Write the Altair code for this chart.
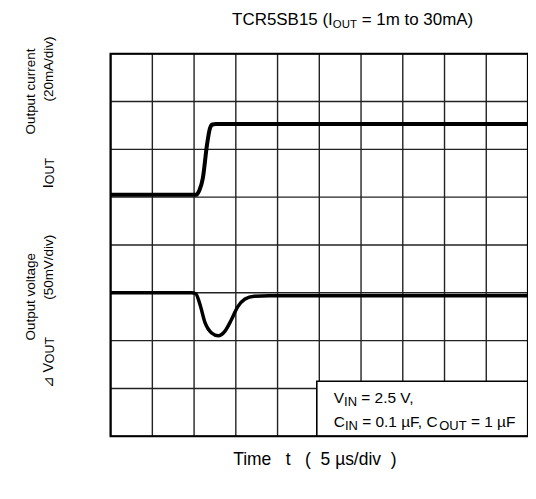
import altair as alt
import pandas as pd

# ---------------- data ----------------
# time axis: 5 us/div, 10 divisions; vertical: 8 divisions
grid_time_us = [0, 5, 10, 15, 20, 25, 30, 35, 40, 45, 50]
grid_div = [0, 1, 2, 3, 4, 5, 6, 7, 8]

# output current trace (mA), 20 mA/div, zero at division 5
cur_time_us = [0, 10.25, 10.65, 11.05, 11.55, 11.9, 12.2, 12.6, 50]
cur_mA = [1, 1, 3, 8, 22, 28.8, 30.4, 30.6, 30.6]

# output voltage deviation (mV), 50 mV/div, zero at division 3
volt_time_us = [0, 9.7, 10.2, 10.7, 11.3, 12.1, 12.9, 13.7, 14.45, 15.2, 16.1, 17.2, 19.0, 50]
volt_mV = [0, 0, -1, -12, -31, -42, -45, -40, -28.5, -15, -6.5, -3.5, -3, -3]

CUR_ZERO_DIV, CUR_PER_DIV = 5, 20.0
VOLT_ZERO_DIV, VOLT_PER_DIV = 3, 50.0

# legend box corner (time us, division)
box_x_us, box_y_div = 24.7, 1.15

W, H = 419, 384
FONT = "Liberation Sans"
NB = "\u00a0"

cur_df = pd.DataFrame({"t": cur_time_us, "v": [CUR_ZERO_DIV + c / CUR_PER_DIV for c in cur_mA]})
volt_df = pd.DataFrame({"t": volt_time_us, "v": [VOLT_ZERO_DIV + m / VOLT_PER_DIV for m in volt_mV]})

xs = alt.Scale(domain=[0, 50], nice=False, zero=False)
ys = alt.Scale(domain=[0, 8], nice=False, zero=False)

vgrid = alt.Chart(pd.DataFrame({"t": grid_time_us})).mark_rule(
    color="#222", strokeWidth=1.4).encode(x=alt.X("t:Q", scale=xs, axis=None))
hgrid = alt.Chart(pd.DataFrame({"d": grid_div})).mark_rule(
    color="#222", strokeWidth=1.4).encode(y=alt.Y("d:Q", scale=ys, axis=None))

box = alt.Chart(pd.DataFrame({"x": [box_x_us], "x2": [50], "y": [box_y_div], "y2": [0]})).mark_rect(
    fill="white", stroke="black", strokeWidth=1.6).encode(
    x=alt.X("x:Q", scale=xs, axis=None), x2="x2:Q",
    y=alt.Y("y:Q", scale=ys, axis=None), y2="y2:Q")

cur_line = alt.Chart(cur_df).mark_line(
    color="black", strokeWidth=4, interpolate="monotone").encode(
    x=alt.X("t:Q", scale=xs, axis=None), y=alt.Y("v:Q", scale=ys, axis=None))
volt_line = alt.Chart(volt_df).mark_line(
    color="black", strokeWidth=3.5, interpolate="monotone").encode(
    x=alt.X("t:Q", scale=xs, axis=None), y=alt.Y("v:Q", scale=ys, axis=None))

frame = alt.Chart(pd.DataFrame({"a": [0]})).mark_rect(
    fill=None, stroke="black", strokeWidth=2.2).encode(
    x=alt.value(0), x2=alt.value(W), y=alt.value(0), y2=alt.value(H))

# ---------------- text helpers ----------------
ARIAL = {" ": .278, NB: .278, "(": .333, ")": .333, "=": .584, ".": .278, ",": .278, "/": .278,
         "A": .667, "B": .667, "C": .722, "I": .278, "N": .722, "O": .778, "R": .722,
         "S": .667, "T": .611, "U": .722, "V": .667, "F": .611, "a": .556, "d": .556,
         "i": .222, "m": .833, "o": .556, "t": .278, "v": .5, "µ": .576, "s": .5,
         "e": .556, "l": .222, "g": .556, "n": .556, "p": .556, "u": .556, "r": .333,
         "c": .5, "⊿": .8}


def tw(s, size):
    return sum(ARIAL.get(ch, .556) for ch in s) * size


def txt(s, x, y, size, angle=0, align="left", baseline="alphabetic"):
    return alt.Chart(pd.DataFrame({"s": [s.replace(" ", NB)]})).mark_text(
        font=FONT, fontSize=size, align=align, baseline=baseline, angle=angle,
        color="black").encode(text="s:N", x=alt.value(x), y=alt.value(y))


def hrun(pieces, x, y):
    """pieces: (text, size, dy) laid out left to right from x; leading blanks become offsets."""
    out = []
    for s, size, dy in pieces:
        core = s.lstrip(" ")
        x += tw(s[: len(s) - len(core)], size)
        out.append(txt(core, x, y + dy, size))
        x += tw(core, size)
    return out


def vrun(pieces, x, y):
    """rotated 270: text runs upward from y; dx shifts toward the text's bottom."""
    out = []
    for s, size, dx in pieces:
        out.append(txt(s, x + dx, y, size, angle=270))
        y -= tw(s, size)
    return out


texts = []
# title
T_SIZE, T_SUB = 17, 11.5
title_pieces = [("TCR5SB15 (I", T_SIZE, 0), ("OUT", T_SUB, 3), (" = 1m to 30mA)", T_SIZE, 0)]
title_w = sum(tw(s, z) for s, z, _ in title_pieces)
texts += hrun(title_pieces, 243 - title_w / 2, -29)

# left labels
L = 13.5
C1, C2 = -76, -58
texts.append(txt("Output current", C1, 38, L, angle=270, align="center"))
texts += vrun([("I", 14.5, 0), ("OUT", 12.5, 1.5)], C2, 135)
texts += vrun([("(20mA/div)", L, 0)], C2, 48)
texts.append(txt("Output voltage", C1, 244, L, angle=270, align="center"))
texts += vrun([("⊿ V", 14.5, 0), ("OUT", 12.5, 1.5)], C2, 336)
texts += vrun([("(50mV/div)", L, 0)], C2, 247)

# legend text
G, GS = 15.5, 13
texts += hrun([("V", G, 0), ("IN", GS, 3), (" = 2.5 V,", G, 0)], 224, 351)
texts += hrun([("C", G, 0), ("IN", GS, 3), (" = 0.1 µF, C", G, 0), ("OUT", GS, 3), (" = 1 µF", G, 0)], 224, 375)

# x label
texts.append(txt("Time   t   (  5 µs/div  )", 205, 413, 17.5, align="center"))

chart = alt.layer(vgrid, hgrid, box, cur_line, volt_line, frame, *texts).properties(
    width=W, height=H,
    autosize=alt.AutoSizeParams(type="none"),
    padding={"left": 103, "top": 45, "right": 0, "bottom": 40},
).configure_view(stroke=None)

chart.save("out.html", embed_options={"renderer": "svg", "actions": False})
